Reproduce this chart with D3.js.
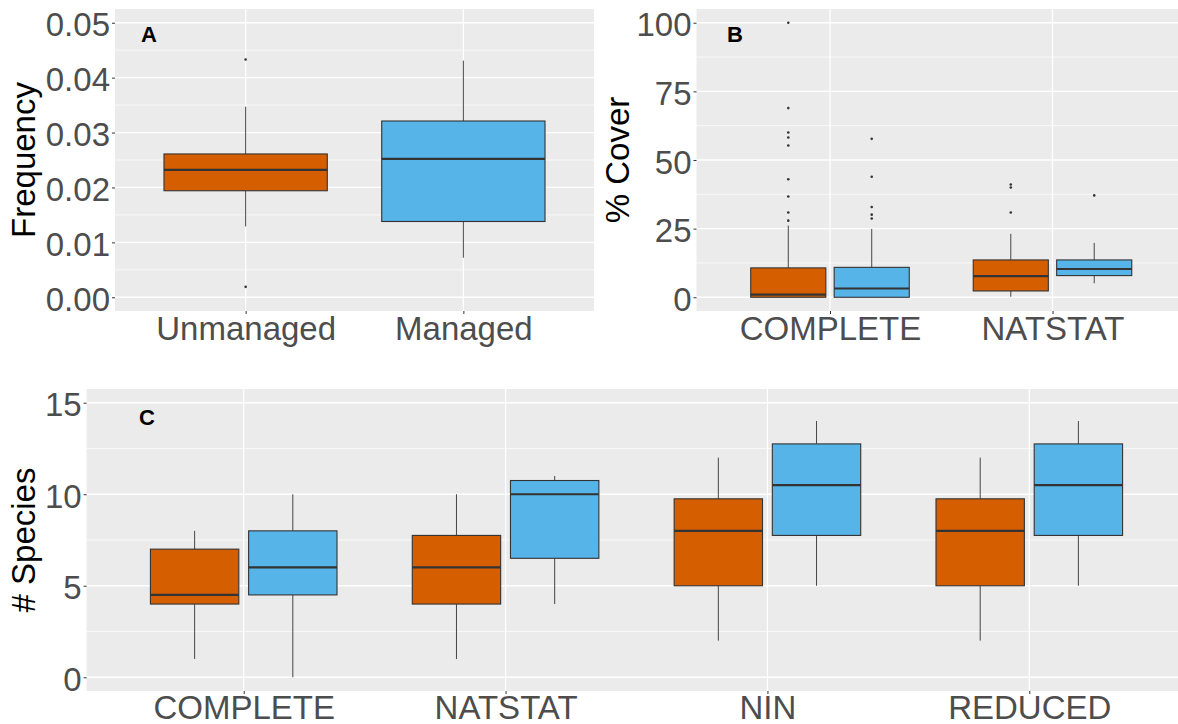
<!DOCTYPE html>
<html>
<head>
<meta charset="utf-8">
<script src="https://cdn.jsdelivr.net/npm/d3@7"></script>
<style>
  html, body { margin: 0; padding: 0; background: #ffffff; }
  svg { display: block; }
</style>
</head>
<body>
<svg id="chart" width="1178" height="724"></svg>
<script>
// ---- Data: box statistics are [lower whisker, Q1, median, Q3, upper whisker] ----
const groups = ["Unmanaged", "Managed"];
const groupColors = ["#D55E00", "#56B4E9"];

// A: frequency by management
const freqLabels = ["Unmanaged", "Managed"];
const freqBoxes = [
  [0.0129, 0.0194, 0.0232, 0.0261, 0.0347],
  [0.0072, 0.0138, 0.0252, 0.0321, 0.0431]
];
const freqOutliers = [[0.0433, 0.0019], []];
const freqTicks = [0, 0.01, 0.02, 0.03, 0.04, 0.05];

// B: percent cover by species list
const coverLabels = ["COMPLETE", "NATSTAT"];
const coverUnmanaged = [
  [0, 0, 1.0, 10.7, 26.1],
  [0.2, 2.3, 7.7, 13.6, 23.1]
];
const coverManaged = [
  [0, 0, 3.2, 10.9, 24.9],
  [5.1, 7.9, 10.3, 13.6, 19.8]
];
const coverUnmanagedOutliers = [
  [100, 68.9, 60, 58.2, 55.3, 43, 36.7, 30.9, 27.9],
  [41.1, 40, 30.9]
];
const coverManagedOutliers = [
  [57.7, 43.9, 32.9, 30.1, 28.7],
  [37.1]
];
const coverTicks = [0, 25, 50, 75, 100];

// C: species counts by species list
const speciesLabels = ["COMPLETE", "NATSTAT", "NIN", "REDUCED"];
const speciesUnmanaged = [
  [1, 4, 4.5, 7, 8],
  [1, 4, 6, 7.75, 10],
  [2, 5, 8, 9.75, 12],
  [2, 5, 8, 9.75, 12]
];
const speciesManaged = [
  [0, 4.5, 6, 8, 10],
  [4, 6.5, 10, 10.75, 11],
  [5, 7.75, 10.5, 12.75, 14],
  [5, 7.75, 10.5, 12.75, 14]
];
const speciesTicks = [0, 5, 10, 15];

// ---- Drawing ----
const svg = d3.select("#chart");
const FONT = "'Liberation Sans', Arial, sans-serif";
const TICK_COLOR = "#4D4D4D";
const LINE = "#333333";

function drawPanel(p) {
  const g = svg.append("g");
  const x = d3.scalePoint().domain(p.categories).range([p.x0, p.x1]).padding(0.6);
  const y = d3.scaleLinear().domain(p.yDomain).range([p.y1, p.y0]);
  const step = x.step();

  // panel background
  g.append("rect")
    .attr("x", p.x0).attr("y", p.y0)
    .attr("width", p.x1 - p.x0).attr("height", p.y1 - p.y0)
    .attr("fill", "#EBEBEB");

  // minor grid
  const minor = [];
  for (let i = 0; i < p.ticks.length - 1; i++) minor.push((p.ticks[i] + p.ticks[i + 1]) / 2);
  g.selectAll(".minor").data(minor).join("line")
    .attr("x1", p.x0).attr("x2", p.x1)
    .attr("y1", d => y(d)).attr("y2", d => y(d))
    .attr("stroke", "#ffffff").attr("stroke-width", 0.7);
  // major grid
  g.selectAll(".major").data(p.ticks).join("line")
    .attr("x1", p.x0).attr("x2", p.x1)
    .attr("y1", d => y(d)).attr("y2", d => y(d))
    .attr("stroke", "#ffffff").attr("stroke-width", 1.3);
  g.selectAll(".vmajor").data(p.categories).join("line")
    .attr("x1", d => x(d)).attr("x2", d => x(d))
    .attr("y1", p.y0).attr("y2", p.y1)
    .attr("stroke", "#ffffff").attr("stroke-width", 1.3);

  // boxes
  const items = [];
  p.series.forEach((s, si) => {
    s.boxes.forEach((b, ci) => {
      let cx, w;
      if (p.series.length === 1) {
        cx = x(p.categories[ci]);
        w = 0.75 * step;
      } else {
        const off = (si - (p.series.length - 1) / 2) * (0.75 / p.series.length);
        cx = x(p.categories[ci]) + off * step;
        w = (0.75 / p.series.length) * 0.9 * step;
      }
      const color = s.colors ? s.colors[ci] : s.color;
      items.push({ b, cx, w, color, outliers: s.outliers[ci] || [] });
    });
  });

  items.forEach(it => {
    const [lo, q1, med, q3, hi] = it.b;
    const bg = g.append("g");
    bg.append("line")
      .attr("x1", it.cx).attr("x2", it.cx)
      .attr("y1", y(q3)).attr("y2", y(hi))
      .attr("stroke", LINE).attr("stroke-width", 0.9);
    bg.append("line")
      .attr("x1", it.cx).attr("x2", it.cx)
      .attr("y1", y(q1)).attr("y2", y(lo))
      .attr("stroke", LINE).attr("stroke-width", 0.9);
    bg.append("rect")
      .attr("x", it.cx - it.w / 2).attr("width", it.w)
      .attr("y", y(q3)).attr("height", y(q1) - y(q3))
      .attr("fill", it.color)
      .attr("stroke", LINE).attr("stroke-width", 1.1);
    bg.append("line")
      .attr("x1", it.cx - it.w / 2).attr("x2", it.cx + it.w / 2)
      .attr("y1", y(med)).attr("y2", y(med))
      .attr("stroke", LINE).attr("stroke-width", 2.2);
    bg.selectAll("circle").data(it.outliers).join("circle")
      .attr("cx", it.cx).attr("cy", d => y(d))
      .attr("r", 1.3).attr("fill", LINE);
  });

  // axes
  const yAxis = d3.axisLeft(y).tickValues(p.ticks).tickFormat(p.format)
    .tickSize(3).tickPadding(2);
  const ya = g.append("g").attr("transform", `translate(${p.x0},0)`).call(yAxis);
  const xAxis = d3.axisBottom(x).tickSize(3).tickPadding(p.xPad);
  const xa = g.append("g").attr("transform", `translate(0,${p.y1})`).call(xAxis);
  [ya, xa].forEach(a => {
    a.select(".domain").remove();
    a.selectAll(".tick line").attr("stroke", LINE).attr("stroke-width", 1);
    a.selectAll(".tick text")
      .attr("fill", TICK_COLOR)
      .style("font-family", FONT)
      .style("font-size", "33px");
  });
  ya.selectAll(".tick text").attr("dy", "0.4em");

  // axis title
  g.append("text")
    .attr("transform", `translate(${p.titleX},${(p.y0 + p.y1) / 2}) rotate(-90)`)
    .attr("text-anchor", "middle")
    .style("font-family", FONT).style("font-size", "33px")
    .attr("fill", "#000000")
    .text(p.title);

  // panel letter
  g.append("text")
    .attr("x", p.letterX).attr("y", p.letterY)
    .style("font-family", FONT)
    .style("font-weight", "bold").style("font-size", "22px")
    .attr("fill", "#000000")
    .text(p.letter);
}

drawPanel({
  x0: 115, x1: 594, y0: 9, y1: 311,
  categories: freqLabels,
  yDomain: [-0.0025, 0.0525],
  ticks: freqTicks, format: d3.format(".2f"),
  series: [{ boxes: freqBoxes, outliers: freqOutliers, colors: groupColors }],
  title: "Frequency", titleX: 35, xPad: 3,
  letter: "A", letterX: 141, letterY: 42
});

drawPanel({
  x0: 696.5, x1: 1186, y0: 9, y1: 311,
  categories: coverLabels,
  yDomain: [-5, 105],
  ticks: coverTicks, format: d3.format("d"),
  series: [
    { boxes: coverUnmanaged, outliers: coverUnmanagedOutliers, color: groupColors[0] },
    { boxes: coverManaged, outliers: coverManagedOutliers, color: groupColors[1] }
  ],
  title: "% Cover", titleX: 629, xPad: 3,
  letter: "B", letterX: 727, letterY: 42
});

drawPanel({
  x0: 86.6, x1: 1186.4, y0: 389, y1: 691,
  categories: speciesLabels,
  yDomain: [-0.75, 15.75],
  ticks: speciesTicks, format: d3.format("d"),
  series: [
    { boxes: speciesUnmanaged, outliers: [], color: groupColors[0] },
    { boxes: speciesManaged, outliers: [], color: groupColors[1] }
  ],
  title: "# Species", titleX: 35, xPad: 2,
  letter: "C", letterX: 139, letterY: 425
});
</script>
</body>
</html>
